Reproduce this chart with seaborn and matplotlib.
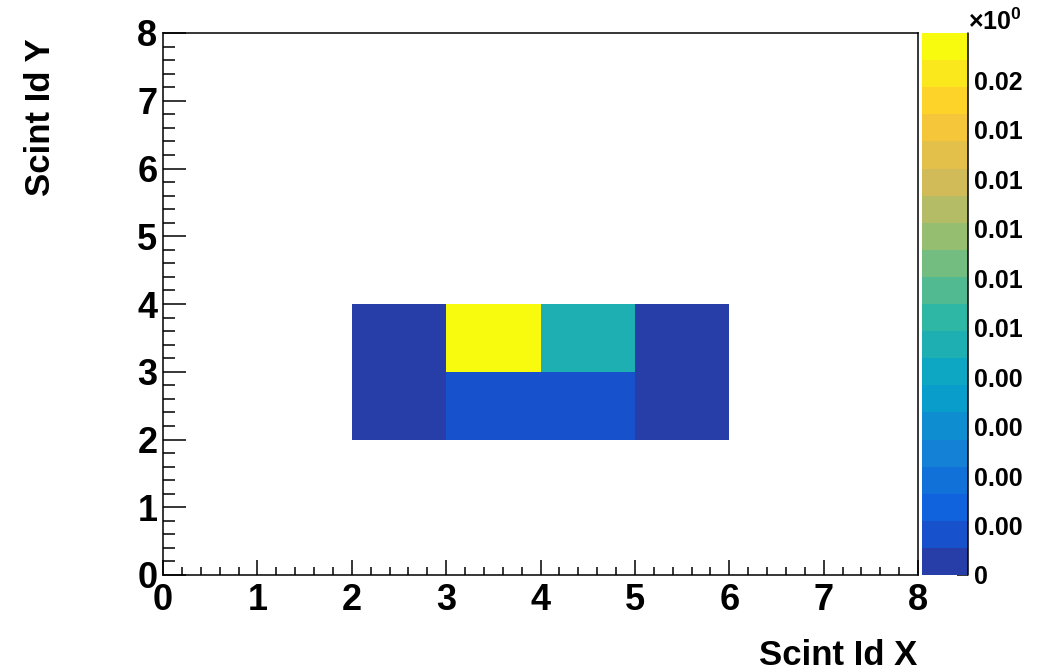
import numpy as np
import pandas as pd
import matplotlib
matplotlib.use("Agg")
import matplotlib.pyplot as plt
import seaborn as sns
from matplotlib.colors import ListedColormap
from matplotlib.ticker import AutoMinorLocator, FuncFormatter
from matplotlib.transforms import Bbox, TransformedBbox

# filled bins of the scintillator map, empty bins stay blank
scint_x = [2, 2, 3, 3, 4, 4, 5, 5]
scint_y = [2, 3, 2, 3, 2, 3, 2, 3]
rate = [0.0005, 0.0005, 0.0016, 0.0219, 0.0016, 0.0093, 0.0005, 0.0005]

n_bins = 8
z_max = 0.0219
axis_ticks = list(range(n_bins + 1))
cbar_ticks = [0.0, 0.002, 0.004, 0.006, 0.008, 0.010, 0.012, 0.014, 0.016, 0.018, 0.020]

# ROOT kBird palette, 20 contour levels
stops = [0.0, 0.125, 0.25, 0.375, 0.5, 0.625, 0.75, 0.875, 1.0]
red = [0.2082, 0.0592, 0.0780, 0.0232, 0.1802, 0.5301, 0.8186, 0.9956, 0.9764]
green = [0.1664, 0.3599, 0.5041, 0.6419, 0.7178, 0.7492, 0.7328, 0.7862, 0.9832]
blue = [0.5293, 0.8684, 0.8385, 0.7914, 0.6425, 0.4662, 0.3499, 0.1968, 0.0539]
n_levels = 20
pos = [int((j + 0.99) * 255 / n_levels) / 254 for j in range(n_levels)]
bird = ListedColormap([(np.interp(p, stops, red), np.interp(p, stops, green),
                        np.interp(p, stops, blue)) for p in pos])

sns.set_style("white")
plt.rcParams['font.family'] = ['Liberation Sans', 'DejaVu Sans']
plt.rcParams['font.weight'] = 'bold'
plt.rcParams['mathtext.default'] = 'regular'
plt.rcParams['text.color'] = 'black'
plt.rcParams['xtick.color'] = 'black'
plt.rcParams['ytick.color'] = 'black'
plt.rcParams['axes.labelcolor'] = 'black'

df = pd.DataFrame({'x': scint_x, 'y': scint_y, 'rate': rate})
grid = df.pivot(index='y', columns='x', values='rate').reindex(
    index=range(n_bins), columns=range(n_bins))

W, H = 1047, 670
fig = plt.figure(figsize=(W / 100, H / 100), dpi=100)
ax = fig.add_axes([163 / W, 95 / H, 755 / W, 542 / H])
cax = fig.add_axes([922 / W, 95 / H, 46 / W, 542 / H])

sns.heatmap(grid, ax=ax, cbar_ax=cax, cmap=bird, vmin=0, vmax=z_max,
            xticklabels=False, yticklabels=False)

ax.set_xlim(0, n_bins)
ax.set_ylim(0, n_bins)
ax.set_xlabel('')
ax.set_ylabel('')
for s in ax.spines.values():
    s.set_visible(True)
    s.set_color('black')
    s.set_linewidth(1.1)

ax.set_xticks(axis_ticks)
ax.set_xticklabels([str(t) for t in axis_ticks], rotation=0)
ax.set_yticks(axis_ticks)
ax.set_yticklabels([str(t) for t in axis_ticks], rotation=0)
ax.xaxis.set_minor_locator(AutoMinorLocator(5))
ax.yaxis.set_minor_locator(AutoMinorLocator(5))
ax.tick_params(axis='x', which='major', direction='in', length=10.8, width=1.1,
               pad=6, labelsize=26, bottom=True, top=False, colors='black')
ax.tick_params(axis='x', which='minor', direction='in', length=5.8, width=1.1,
               bottom=True, top=False)
ax.tick_params(axis='y', which='major', direction='in', length=16.5, width=1.1,
               pad=4, labelsize=26, left=True, right=False, colors='black')
ax.tick_params(axis='y', which='minor', direction='in', length=8.6, width=1.1,
               left=True, right=False)

cbar = ax.collections[0].colorbar
cbar.outline.set_visible(False)
cbar.set_ticks(cbar_ticks)
cbar.ax.yaxis.set_major_formatter(FuncFormatter(lambda v, p: '0' if v == 0 else f'{v:.3f}'))
cbar.ax.tick_params(direction='in', length=8, width=1.1, labelsize=18, pad=4,
                    right=True, colors='black')
cbar.ax.axvline(1, color='black', lw=1.1, clip_on=False)

fig.text(917 / W, 1 - 665 / H, 'Scint Id X', fontsize=25, fontweight='bold',
         ha='right', va='baseline')
fig.text(40 / W, 1 - 38 / H, 'Scint Id Y', fontsize=25, fontweight='bold',
         rotation=90, ha='center', va='top')
expo = fig.text(968 / W, 1 - 30 / H, '×10$^{0}$', fontsize=18, fontweight='bold',
                ha='left', va='baseline')

# the original canvas is cut at x=1022
fig.canvas.draw()
clip = TransformedBbox(Bbox.from_extents(0, 0, 1022 / W, 1), fig.transFigure)
for t in cbar.ax.get_yticklabels() + [expo]:
    t.set_clip_on(True)
    t.set_clip_box(clip)

fig.savefig('out.png', dpi=100)
